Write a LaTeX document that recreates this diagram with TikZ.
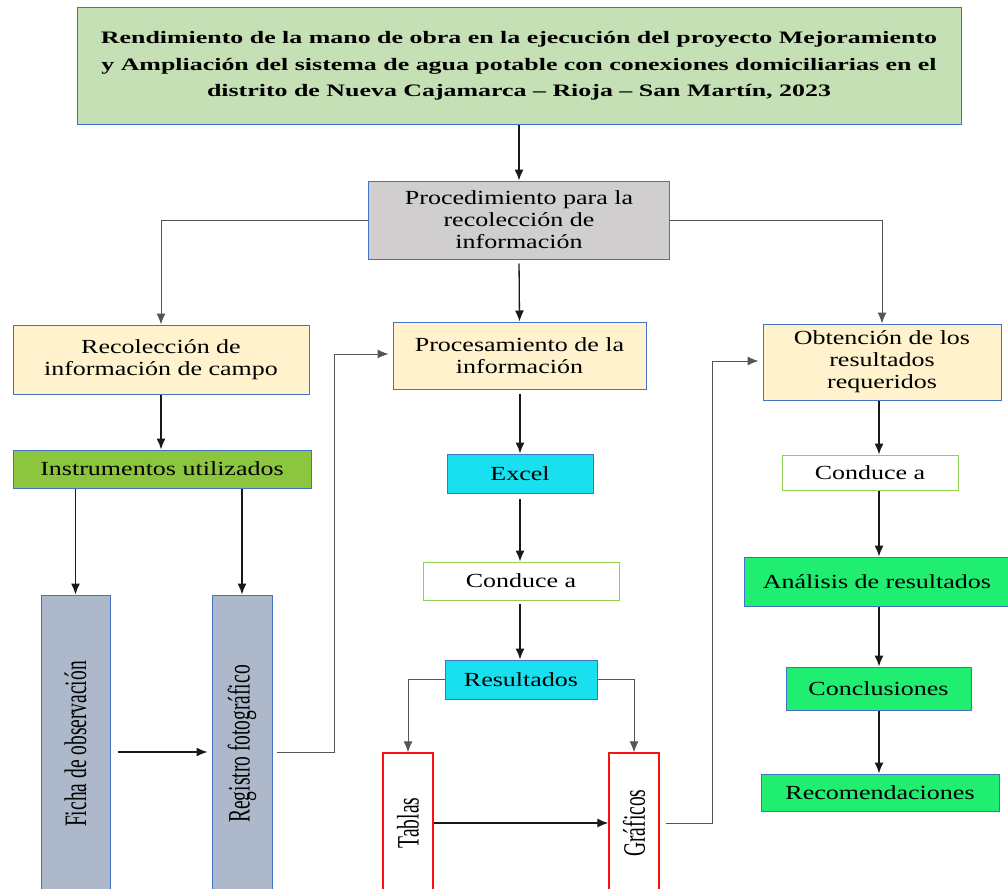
\documentclass[tikz,border=0pt]{standalone}
\usepackage{fontspec}
\usepackage{graphicx}
\usetikzlibrary{arrows.meta}
\newfontfamily\boxfont[FakeStretch=1.3,Ligatures=TeX]{Liberation Serif}
\newfontfamily\titlefont[FakeStretch=1.48,Ligatures=TeX]{Liberation Serif}
\newfontfamily\rotfont[Ligatures=TeX]{Liberation Serif}
\definecolor{bblue}{HTML}{4472C4}
\definecolor{tgreen}{HTML}{C5E0B4}
\definecolor{pgray}{HTML}{D0CECE}
\definecolor{cream}{HTML}{FFF2CC}
\definecolor{igreen}{HTML}{8CC63F}
\definecolor{slate}{HTML}{ADB9CA}
\definecolor{cyanb}{HTML}{19E0EE}
\definecolor{lgreen}{HTML}{92D050}
\definecolor{bgreen}{HTML}{1FEE70}
\definecolor{lineg}{HTML}{555555}
\definecolor{rborder}{HTML}{FF1010}
\newcommand{\rtext}[1]{\rotatebox{90}{\scalebox{1}[1.6]{\rotfont\fontsize{19.5}{22}\selectfont #1}}}
\tikzset{
  box/.style={draw=bblue, line width=1pt, inner sep=0pt, align=center,
    font=\boxfont\fontsize{20}{22}\selectfont},
  cbox/.style={draw=lgreen, line width=1pt, fill=white, inner sep=0pt, align=center,
    font=\boxfont\fontsize{20}{22}\selectfont},
  rbox/.style={draw=rborder, line width=1.4pt, fill=white, inner sep=0pt},
  arr/.style={draw=black!90, line width=1.3pt, -{Latex[length=11pt,width=9pt]}},
  garr/.style={draw=lineg, line width=1pt, -{Latex[length=11pt,width=9pt]}},
}
\begin{document}
\begin{tikzpicture}[x=1pt,y=-1pt]
\useasboundingbox[fill=white] (0,0) rectangle (1008,888);

\node[box, fill=tgreen, minimum width=884, minimum height=116,
  font=\titlefont\bfseries\fontsize{17.5}{26.5}\selectfont] (title) at (519,66)
  {Rendimiento de la mano de obra en la ejecución del proyecto Mejoramiento\\
   y Ampliación del sistema de agua potable con conexiones domiciliarias en el\\
   distrito de Nueva Cajamarca – Rioja – San Martín, 2023};

\node[box, fill=pgray, minimum width=301, minimum height=78] (proc) at (519,220)
  {Procedimiento para la\\ recolección de\\ información};

\node[box, fill=cream, minimum width=296, minimum height=69] (recol) at (161,359.5)
  {Recolección de\\ información de campo};
\node[box, fill=cream, minimum width=253, minimum height=67] (procesa) at (519.5,355.5)
  {Procesamiento de la\\ información};
\node[box, fill=cream, minimum width=238, minimum height=76] (obten) at (882,362)
  {Obtención de los\\ resultados\\ requeridos};

\node[box, fill=igreen, minimum width=298, minimum height=38] (instr) at (162,469)
  {Instrumentos utilizados};

\node[box, fill=slate, minimum width=69, minimum height=298] (ficha) at (75.5,744)
  {\rtext{Ficha de observación}};
\node[box, fill=slate, minimum width=60, minimum height=298] (registro) at (242,744)
  {\rtext{Registro fotográfico}};

\node[box, fill=cyanb, minimum width=146, minimum height=39] (excel) at (520,473.5) {Excel};
\node[cbox, minimum width=196, minimum height=38] (cond1) at (521,581) {Conduce a};
\node[box, fill=cyanb, minimum width=152, minimum height=39] (resul) at (521,679.5) {Resultados};

\node[rbox, minimum width=50, minimum height=140] (tablas) at (408,823) {\rtext{Tablas}};
\node[rbox, minimum width=50, minimum height=140] (graf) at (634,823) {\rtext{Gráficos}};

\node[cbox, minimum width=176, minimum height=35] (cond2) at (870,472.5) {Conduce a};
\node[box, fill=bgreen, minimum width=266, minimum height=49] (anal) at (877,581.5) {Análisis de resultados};
\node[box, fill=bgreen, minimum width=185, minimum height=43] (concl) at (878.5,688.5) {Conclusiones};
\node[box, fill=bgreen, minimum width=238, minimum height=37] (recom) at (880,792.5) {Recomendaciones};

% helper coordinates
\coordinate (fr) at (0,752);
\coordinate (k1) at (334,354);
\coordinate (k2) at (712,361);
\coordinate (rx) at (879,0);

% connectors
\draw[arr] (title) -- (proc);
\draw[garr] (proc.west) -| (recol.north);
\draw[garr] (proc.east) -| (obten.north);
\draw[arr, shorten <=4pt] (proc.south) -- (procesa.north);

\draw[arr] (recol.south) -- (recol.south |- instr.north);
\draw[arr] (instr.south -| ficha.north) -- (ficha.north);
\draw[arr] (instr.south -| registro.north) -- (registro.north);
\draw[arr, shorten <=7pt, shorten >=4pt] (ficha.east |- fr) -- (registro.west |- fr);
\draw[garr, shorten >=4pt] ([xshift=4pt]registro.east |- fr) -- (k1 |- fr) -- (k1) -- (procesa.west |- k1);

\draw[arr, shorten <=4pt] (procesa.south -| excel.north) -- (excel.north);
\draw[arr, shorten <=5pt] (excel.south) -- (excel.south |- cond1.north);
\draw[arr, shorten <=3pt] (cond1.south -| excel.south) -- (excel.south |- resul.north);
\draw[garr] (resul.west) -| (tablas.north);
\draw[garr] (resul.east) -| (graf.north);
\draw[arr] (tablas.east) -- (graf.west);
\draw[garr, shorten >=4pt] ([xshift=6pt]graf.east) -- (k2 |- graf.east) -- (k2) -- (obten.west |- k2);

\draw[arr] (obten.south -| rx) -- (cond2.north -| rx);
\draw[arr] (cond2.south -| rx) -- (anal.north -| rx);
\draw[arr] (anal.south -| rx) -- (concl.north -| rx);
\draw[arr] (concl.south -| rx) -- (recom.north -| rx);
\end{tikzpicture}
\end{document}
